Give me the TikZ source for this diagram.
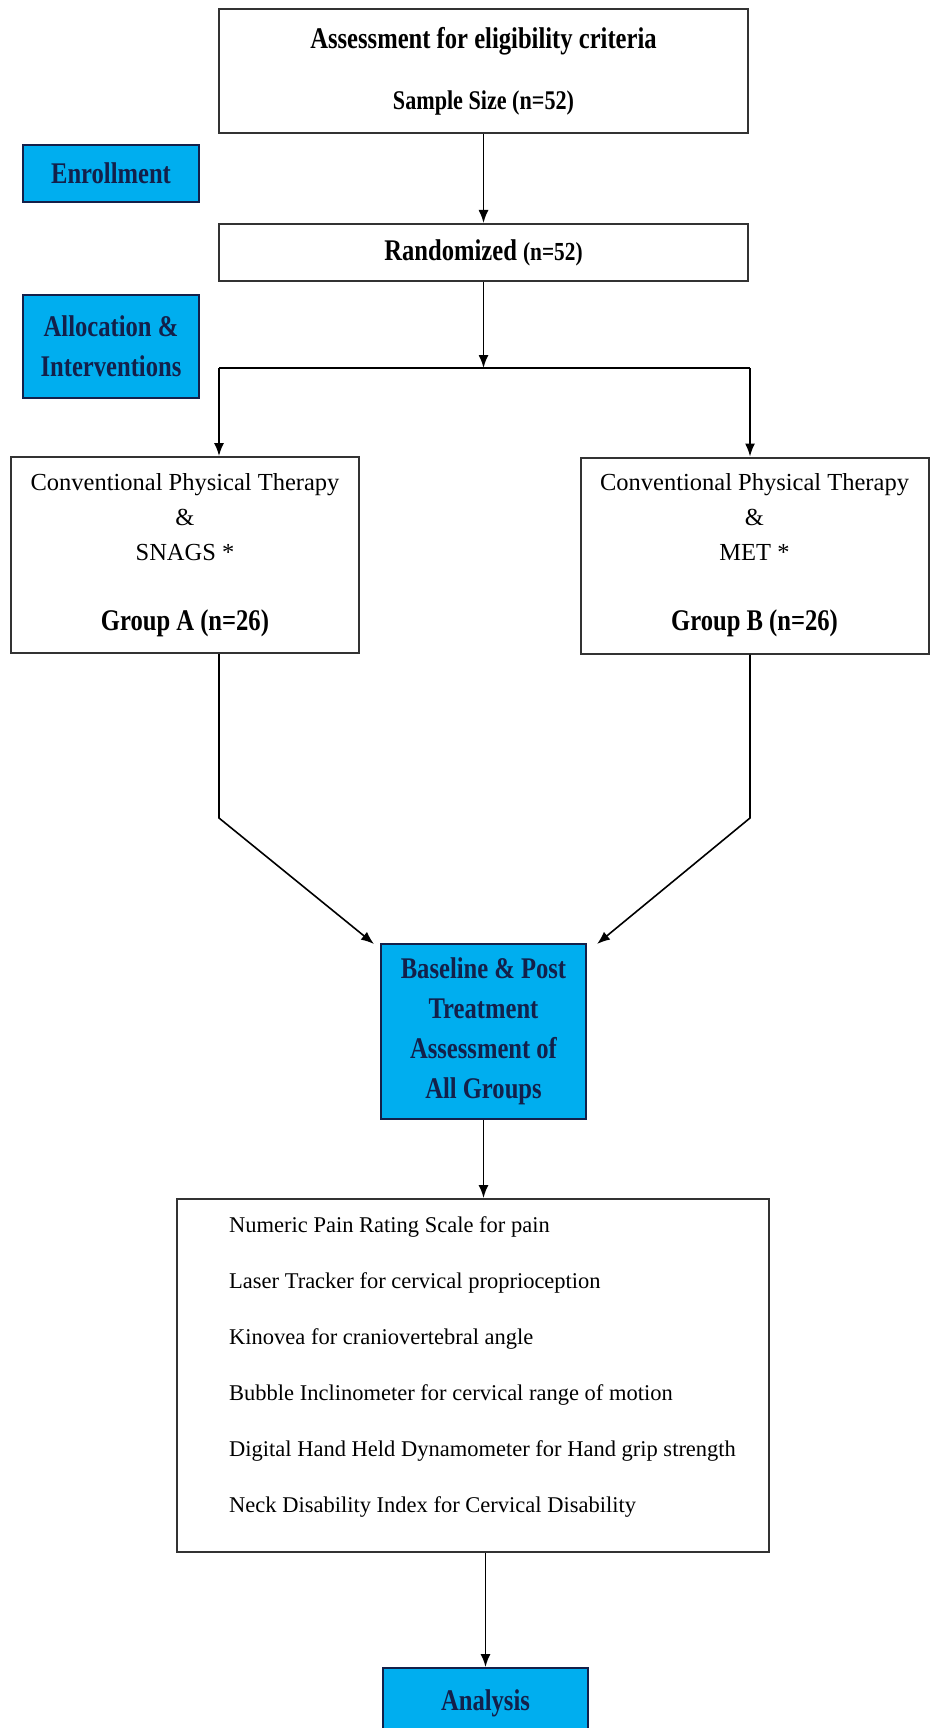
\documentclass[tikz,border=0pt]{standalone}
\usepackage{fontspec}
\setmainfont{Liberation Serif}
\newfontfamily\headfont{Liberation Serif}[FakeStretch=0.82]
\usetikzlibrary{arrows.meta}
\definecolor{stageblue}{HTML}{00AEEF}
\definecolor{stagetext}{HTML}{13204A}
\definecolor{boxline}{HTML}{333333}

\begin{document}
\begin{tikzpicture}[x=1pt,y=-1pt,
    box/.style={draw=boxline,line width=2pt,inner sep=0pt,align=center},
    head/.style={font=\headfont\bfseries\fontsize{30}{61}\selectfont},
    stage/.style={box,draw=stagetext,fill=stageblue,text=stagetext,font=\headfont\bfseries\fontsize{30}{40}\selectfont},
    group/.style={box,minimum width=348pt,minimum height=196pt,font=\fontsize{24.5}{35}\selectfont},
    flow/.style={line width=1.6pt,-{Latex[length=13pt,width=10pt]}}]

    \useasboundingbox (0,0) rectangle (931,1728);

    \node[box,head,minimum width=529pt,minimum height=124pt] (assess) at (483.5,71) {Assessment for eligibility criteria\\{\fontsize{27}{61}\selectfont Sample Size (n=52)}};
    \node[stage,minimum width=176pt,minimum height=57pt] (enrol) at (111,173.5) {Enrollment};
    \node[box,head,minimum width=529pt,minimum height=57pt] (rand) at (483.5,252.5) {Randomized {\fontsize{26}{30}\selectfont (n=52)}};
    \node[stage,minimum width=176pt,minimum height=103pt] (alloc) at (111,346.5) {Allocation \&\\Interventions};
    \node[group] (groupA) at (185,555) {Conventional Physical Therapy\\\&\\SNAGS *\\[35pt]{\headfont\bfseries\fontsize{30}{35}\selectfont Group A (n=26)}};
    \node[group] (groupB) at (754.5,555.5) {Conventional Physical Therapy\\\&\\MET *\\[35pt]{\headfont\bfseries\fontsize{30}{35}\selectfont Group B (n=26)}};
    \node[stage,minimum width=205pt,minimum height=175pt] (base) at (483.5,1031.5) {Baseline \& Post\\Treatment\\Assessment of\\All Groups};
    \node[box,minimum width=592pt,minimum height=353pt] (measures) at (473,1375.5) {};
    \node[anchor=west,align=left,inner sep=0pt,font=\fontsize{22.5}{56}\selectfont] (measurelist) at (229,1366.5) {Numeric Pain Rating Scale for pain\\Laser Tracker for cervical proprioception\\Kinovea for craniovertebral angle\\Bubble Inclinometer for cervical range of motion\\Digital Hand Held Dynamometer for Hand grip strength\\Neck Disability Index for Cervical Disability};
    \node[stage,minimum width=205pt,minimum height=70pt] (analysis) at (485.5,1703) {Analysis};

    \coordinate (split) at (483.5,368);
    \coordinate (splitA) at (219,368);
    \coordinate (splitB) at (750,368);
    \coordinate (bendA) at (219,818);
    \coordinate (bendB) at (750,818);
    \coordinate (tipA) at (374,944);
    \coordinate (tipB) at (597,944);

    \draw[flow] (assess) -- (rand);
    \draw[flow] (rand) -- (split);
    \draw[line width=1.6pt] (splitA) -- (splitB);
    \draw[flow] (splitA) -- (groupA.north -| splitA);
    \draw[flow] (splitB) -- (groupB.north -| splitB);
    \draw[flow] (groupA.south -| bendA) -- (bendA) -- (tipA);
    \draw[flow] (groupB.south -| bendB) -- (bendB) -- (tipB);
    \draw[flow] (base) -- (base |- measures.north);
    \draw[flow] (analysis |- measures.south) -- (analysis);
\end{tikzpicture}
\end{document}
